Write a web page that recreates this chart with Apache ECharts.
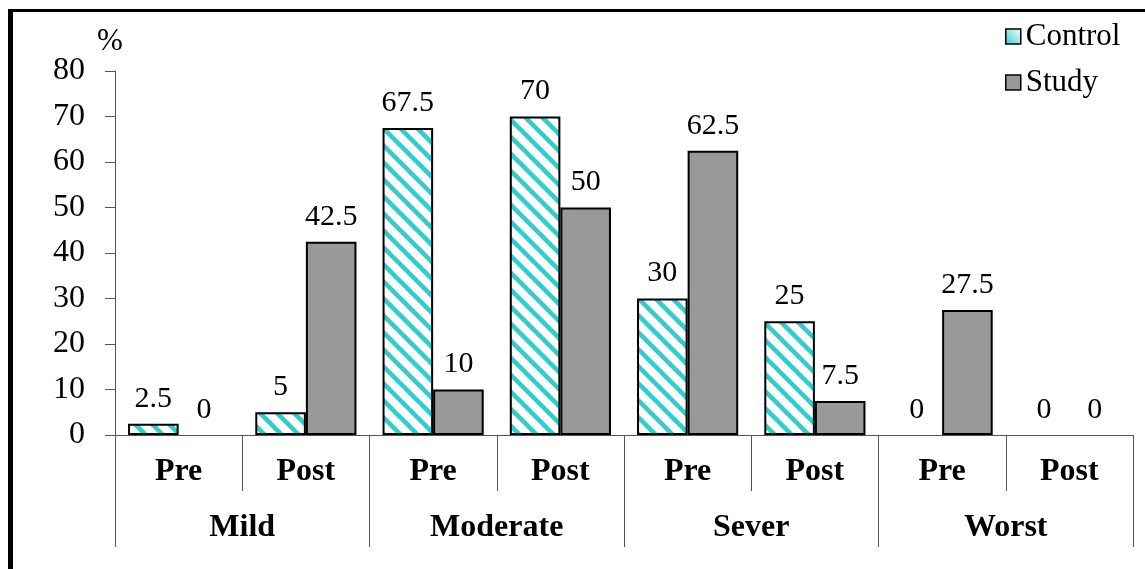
<!DOCTYPE html>
<html>
<head>
<meta charset="utf-8">
<script src="https://cdn.jsdelivr.net/npm/echarts@6/dist/echarts.min.js"></script>
<style>
    html, body { margin: 0; padding: 0; background: #fff; }
    #main { width: 1145px; height: 569px; }
</style>
</head>
<body>
<div id="main"></div>
<script>
// data
const phases = ["Pre", "Post", "Pre", "Post", "Pre", "Post", "Pre", "Post"];
const groups = ["Mild", "Moderate", "Sever", "Worst"];
const control = [2.5, 5, 67.5, 70, 30, 25, 0, 0];
const study = [0, 42.5, 10, 50, 62.5, 7.5, 27.5, 0];

const FONT = "Liberation Serif";

// diagonal cyan stripes for Control bars
const makeStripes = () => {
    const s = 17;
    const c = document.createElement("canvas");
    c.width = s;
    c.height = s;
    const ctx = c.getContext("2d");
    ctx.fillStyle = "#fff";
    ctx.fillRect(0, 0, s, s);
    ctx.strokeStyle = "#33CCCC";
    ctx.lineWidth = 4.5;
    for (const k of [-s, 0, s]) {
        ctx.beginPath();
        ctx.moveTo(k - 2, -2);
        ctx.lineTo(k + s + 2, s + 2);
        ctx.stroke();
    }
    return c;
};

// zero bars get no outline (nothing visible in the original)
const toItems = (arr) =>
    arr.map((v) => (v === 0 ? { value: v, itemStyle: { borderWidth: 0 } } : v));

const chart = echarts.init(document.getElementById("main"));

const labelStyle = {
    show: true,
    position: "top",
    distance: 10,
    color: "#000",
    fontFamily: FONT,
    fontSize: 30,
};

const option = {
    animation: false,
    backgroundColor: "#fff",
    grid: { left: 115, right: 12, top: 71, bottom: 134 },
    legend: {
        orient: "vertical",
        left: 1000,
        top: 16,
        icon: "rect",
        itemWidth: 15,
        itemHeight: 15,
        itemGap: 15,
        textStyle: { fontFamily: FONT, fontSize: 31, color: "#000" },
        data: [
            {
                name: "Control",
                itemStyle: {
                    color: new echarts.graphic.LinearGradient(0, 1, 1, 0, [
                        { offset: 0, color: "#33CCCC" },
                        { offset: 1, color: "#ffffff" },
                    ]),
                    borderColor: "#000",
                    borderWidth: 1.5,
                },
            },
            { name: "Study", itemStyle: { borderColor: "#000", borderWidth: 1.5 } },
        ],
    },
    xAxis: [
        {
            type: "category",
            data: phases,
            position: "bottom",
            axisLine: { lineStyle: { color: "#555", width: 1 } },
            axisTick: { show: true, length: 56, lineStyle: { color: "#555" } },
            axisLabel: {
                interval: 0,
                margin: 21,
                color: "#000",
                fontFamily: FONT,
                fontSize: 32,
                fontWeight: "bold",
            },
        },
        {
            type: "category",
            data: groups,
            position: "bottom",
            axisLine: { show: false },
            axisTick: { show: true, length: 112, lineStyle: { color: "#555" } },
            axisLabel: {
                interval: 0,
                margin: 77,
                color: "#000",
                fontFamily: FONT,
                fontSize: 32,
                fontWeight: "bold",
            },
        },
    ],
    yAxis: {
        type: "value",
        min: 0,
        max: 80,
        interval: 10,
        name: "%",
        nameLocation: "end",
        nameGap: 14,
        nameTextStyle: { fontFamily: FONT, fontSize: 31, color: "#000", padding: [0, 10, 0, 0] },
        axisLine: { show: true, lineStyle: { color: "#555", width: 1 } },
        axisTick: { show: true, length: 10, lineStyle: { color: "#555" } },
        splitLine: { show: false },
        axisLabel: { margin: 30, color: "#000", fontFamily: FONT, fontSize: 32 },
    },
    series: [
        {
            name: "Control",
            type: "bar",
            data: toItems(control),
            barGap: "0%",
            barCategoryGap: "20.5%",
            itemStyle: {
                color: { image: makeStripes(), repeat: "repeat" },
                borderColor: "#000",
                borderWidth: 2,
            },
            label: labelStyle,
        },
        {
            name: "Study",
            type: "bar",
            data: toItems(study),
            itemStyle: { color: "#999999", borderColor: "#000", borderWidth: 2 },
            label: labelStyle,
        },
    ],
    // outer frame: thick left and top edges
    graphic: [
        { type: "rect", shape: { x: 8, y: 9, width: 1137, height: 3 }, style: { fill: "#000" } },
        { type: "rect", shape: { x: 8, y: 9, width: 5, height: 560 }, style: { fill: "#000" } },
    ],
};

chart.setOption(option);
</script>
</body>
</html>
